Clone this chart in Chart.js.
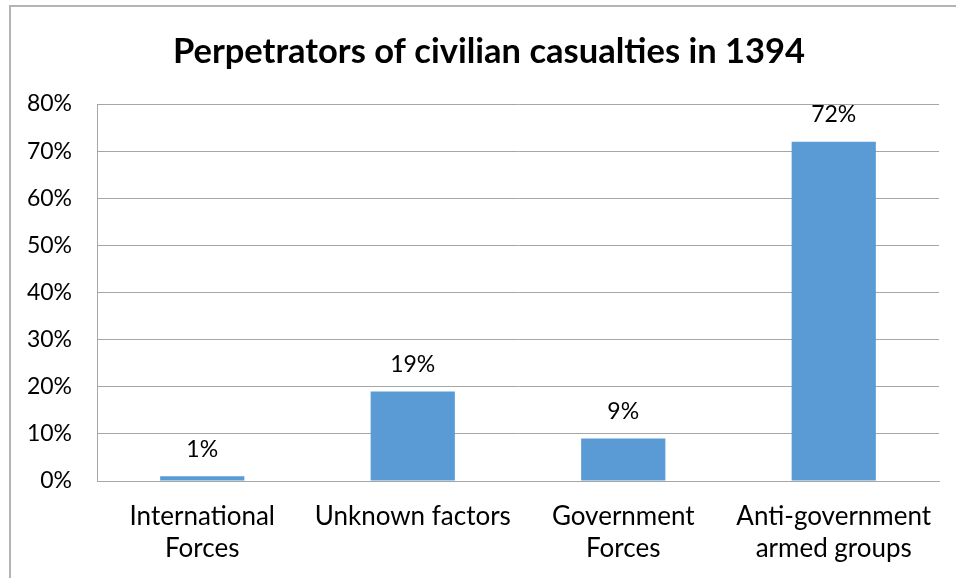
<!DOCTYPE html>
<html lang="en">
<head>
    <meta charset="UTF-8">
    <title>Perpetrators of civilian casualties in 1394</title>
    <style>
        body {
            margin: 0;
            background-color: #ffffff;
            overflow: hidden;
        }
        .frame {
            position: absolute;
            left: 9px;
            top: 5px;
            right: -10px;
            bottom: -10px;
            border-left: 2px solid #b4b4b4;
            border-top: 2px solid #b4b4b4;
        }
        canvas {
            position: absolute;
            left: 0;
            top: 0;
        }
    </style>
    <script src="https://cdn.jsdelivr.net/npm/chart.js"></script>
</head>
<body>
    <div class="frame"></div>
    <canvas id="casualtyChart" width="956" height="578"></canvas>

    <script>
        const chartTitle = 'Perpetrators of civilian casualties in 1394';
        const categories = [
            ['International', 'Forces'],
            ['Unknown factors'],
            ['Government', 'Forces'],
            ['Anti-government', 'armed groups']
        ];
        const shares = [1, 19, 9, 72];
        const yTicks = [0, 10, 20, 30, 40, 50, 60, 70, 80];

        const fontFamily = 'Lato, "Open Sans", sans-serif';

        // title is centred on the whole frame, not just the plot
        const frameTitle = {
            id: 'frameTitle',
            afterDraw(chart) {
                const ctx = chart.ctx;
                ctx.save();
                ctx.font = 'bold 34.5px ' + fontFamily;
                ctx.fillStyle = '#000000';
                ctx.textAlign = 'center';
                ctx.textBaseline = 'middle';
                ctx.fillText(chartTitle, 489, 52);
                ctx.restore();
            }
        };

        // writes the percentage above each bar
        const valueLabels = {
            id: 'valueLabels',
            afterDatasetsDraw(chart) {
                const ctx = chart.ctx;
                const meta = chart.getDatasetMeta(0);
                ctx.save();
                ctx.font = '23px ' + fontFamily;
                ctx.fillStyle = '#000000';
                ctx.textAlign = 'center';
                ctx.textBaseline = 'middle';
                meta.data.forEach((bar, i) => {
                    ctx.fillText(shares[i] + '%', bar.x, bar.y - 27);
                });
                ctx.restore();
            }
        };

        new Chart(document.getElementById('casualtyChart').getContext('2d'), {
            type: 'bar',
            data: {
                labels: categories,
                datasets: [{
                    data: shares,
                    backgroundColor: '#5b9bd5',
                    barPercentage: 0.8,
                    categoryPercentage: 0.5
                }]
            },
            options: {
                responsive: false,
                animation: false,
                layout: {
                    padding: { left: 0, right: 17, top: 104, bottom: 0 }
                },
                plugins: {
                    legend: { display: false },
                    tooltip: { enabled: false },
                    title: { display: false }
                },
                scales: {
                    x: {
                        afterFit: scale => { scale.height = 97; },
                        grid: { display: false, drawTicks: false },
                        border: { display: true, color: '#a6a6a6', width: 1 },
                        ticks: {
                            color: '#000000',
                            padding: 19,
                            maxRotation: 0,
                            font: { family: fontFamily, size: 26, lineHeight: 1.25 }
                        }
                    },
                    y: {
                        min: yTicks[0],
                        max: yTicks[yTicks.length - 1],
                        afterFit: scale => { scale.width = 97; },
                        afterBuildTicks: scale => {
                            scale.ticks = yTicks.map(v => ({ value: v }));
                        },
                        grid: { color: '#a6a6a6', drawTicks: false },
                        border: { display: true, color: '#a6a6a6', width: 1 },
                        ticks: {
                            color: '#000000',
                            padding: 25,
                            font: { family: fontFamily, size: 23 },
                            callback: v => v + '%'
                        }
                    }
                }
            },
            plugins: [valueLabels, frameTitle]
        });
    </script>
</body>
</html>
